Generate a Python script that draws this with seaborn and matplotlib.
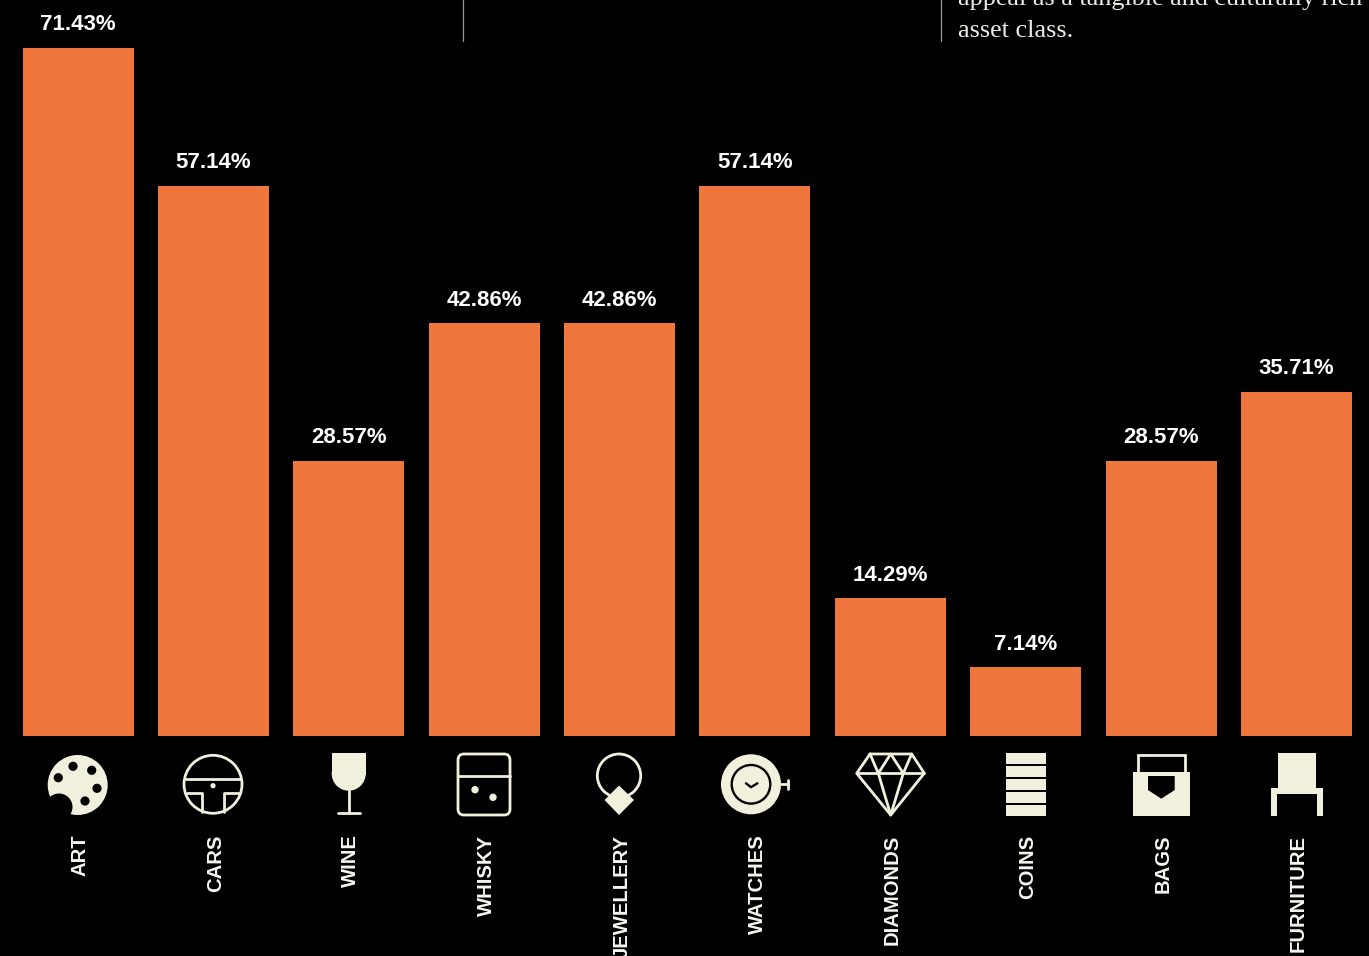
import matplotlib
matplotlib.use("Agg")
import matplotlib.pyplot as plt
from matplotlib.patches import Circle, Rectangle, Polygon, FancyBboxPatch
from matplotlib.lines import Line2D
from matplotlib.transforms import ScaledTranslation
import seaborn as sns
import pandas as pd

categories = ["ART", "CARS", "WINE", "WHISKY", "JEWELLERY", "WATCHES",
              "DIAMONDS", "COINS", "BAGS", "FURNITURE"]
shares = [71.43, 57.14, 28.57, 42.86, 42.86, 57.14, 14.29, 7.14, 28.57, 35.71]
share_labels = ["71.43%", "57.14%", "28.57%", "42.86%", "42.86%", "57.14%",
                "14.29%", "7.14%", "28.57%", "35.71%"]

ORANGE = "#EF773D"
CREAM = "#F1F0DC"
LABEL = "#F6F6F0"
INK = "#000000"
W, H = 1369, 956
BASE_Y = 736
STEP = 135.39
FIRST_X = 78.0

sns.set_theme(style="dark", rc={"axes.facecolor": INK, "figure.facecolor": INK})
plt.rcParams["font.family"] = ["Liberation Sans", "DejaVu Sans"]

fig = plt.figure(figsize=(W / 100, H / 100), dpi=100)
ax = fig.add_axes([0, (H - BASE_Y) / H, 1, BASE_Y / H])

frame = pd.DataFrame({"category": categories, "share": shares})
sns.barplot(data=frame, x="category", y="share", color=ORANGE, saturation=1,
            width=111 / STEP, linewidth=0, edgecolor="none", ax=ax)
ax.set_xlim(-FIRST_X / STEP, (W - FIRST_X) / STEP)
ax.set_ylim(0, BASE_Y / 9.634)
ax.set_xlabel("")
ax.set_ylabel("")
ax.set_yticks([])
ax.grid(False)
for side in ax.spines.values():
    side.set_visible(False)

ax.bar_label(ax.containers[0], labels=share_labels, padding=9, color="white",
             fontsize=16, fontweight="bold", fontfamily="Liberation Sans")
ax.tick_params(axis="x", length=0, pad=71)
ax.set_xticks(range(len(categories)))
ax.set_xticklabels(categories, rotation=90, ha="center", va="top", color=LABEL,
                   fontsize=14.6, fontweight="bold", fontfamily="Liberation Sans")
nudge = ScaledTranslation(1.5 / 72, 0, fig.dpi_scale_trans)
for tick_label in ax.get_xticklabels():
    tick_label.set_transform(tick_label.get_transform() + nudge)

# Overlay in pixel units for the pictograms and the text fragments above the bars
ov = fig.add_axes([0, 0, 1, 1], facecolor="none")
ov.set_xlim(0, W)
ov.set_ylim(H, 0)
ov.axis("off")


def ring(cx, cy, r, color=CREAM, lw=2.0):
    ov.add_patch(Circle((cx, cy), r, fill=False, ec=color, lw=lw))


def disc(cx, cy, r, color=CREAM):
    ov.add_patch(Circle((cx, cy), r, fc=color, ec="none"))


def stroke(xs, ys, color=CREAM, lw=2.0):
    ov.add_line(Line2D(xs, ys, color=color, lw=lw, solid_capstyle="round",
                       solid_joinstyle="round"))


def box(x0, y0, x1, y1, color=CREAM):
    ov.add_patch(Rectangle((x0, y0), x1 - x0, y1 - y0, fc=color, ec="none"))


# Palette
disc(77.7, 785, 30)
for cx, cy in [(73, 766.3), (91.7, 770.3), (58.3, 777.7), (97, 788.3), (85, 801)]:
    disc(cx, cy, 4.6, INK)
disc(59, 807, 13.5, INK)

# Steering wheel
ring(213, 784.3, 29)
stroke([185.5, 240.5], [778.7, 778.7])
disc(213, 785.7, 2.6)
stroke([187, 202.3, 202.3], [793.3, 793.3, 811.5])
stroke([239, 223.7, 223.7], [793.3, 793.3, 811.5])

# Wine glass
box(331.7, 753.3, 365.7, 775)
ov.add_patch(Circle((348.7, 773.7), 17, fc=CREAM, ec="none"))
stroke([348.7, 348.7], [788, 813])
stroke([337.5, 360], [813, 813])

# Whisky tumbler
ov.add_patch(FancyBboxPatch((462, 758), 44, 53, boxstyle="round,pad=4,rounding_size=6",
                            fill=False, ec=CREAM, lw=2.0))
stroke([458, 510], [776, 776])
disc(475, 789.7, 3.7)
disc(493, 797.3, 3.7)

# Pendant
ring(619, 775.7, 21.7)
ov.add_patch(Polygon([(619, 785.5), (634, 800), (619, 815), (604.5, 800)], fc=CREAM, ec="none"))

# Pocket watch
disc(751, 784.3, 30)
ring(751, 784.3, 19.3, INK, 1.7)
stroke([746, 751, 757.4], [783.3, 787.2, 783.3], INK, 1.7)
stroke([781, 788], [784.3, 784.3])
stroke([788, 788], [779.5, 789])

# Diamond
stroke([870, 911.7, 924.3, 890.7, 856.7, 870], [754, 754, 773.3, 815, 773.3, 754])
stroke([856.7, 924.3], [773.3, 773.3])
stroke([870, 878.3, 890.7, 903.3, 911.7], [754, 773.3, 754, 773.3, 754])
stroke([878.3, 890.7, 903.3], [773.3, 815, 773.3])

# Stack of coins
for top, bottom in [(753.3, 764), (766, 777), (779, 790), (792, 803), (805, 816)]:
    box(1005.7, top, 1046, bottom)

# Bag
box(1133, 771.7, 1190, 815.7)
ov.add_patch(Rectangle((1137.8, 754.5), 47, 18, fill=False, ec=CREAM, lw=2.0))
ov.add_patch(Polygon([(1148, 776), (1174.7, 776), (1174.7, 790), (1161.3, 798.7), (1148, 790)],
                     fc=INK, ec="none"))

# Chair
box(1278, 753.3, 1316, 789)
box(1271, 788.3, 1322.7, 794)
box(1271, 788.3, 1277, 816)
box(1317, 790, 1322.7, 816)

# Rules and body copy cut off by the top edge
for x in (463, 941):
    stroke([x, x], [-2, 41], "#9A9A9A", 0.9)
ov.text(958, 5, "appeal as a tangible and culturally rich", color="#EDEDE6",
        fontsize=18.8, fontfamily="Liberation Serif", va="baseline")
ov.text(958, 37, "asset class.", color="#EDEDE6", fontsize=18.8,
        fontfamily="Liberation Serif", va="baseline")

fig.savefig("out.png", dpi=100, facecolor=INK)
